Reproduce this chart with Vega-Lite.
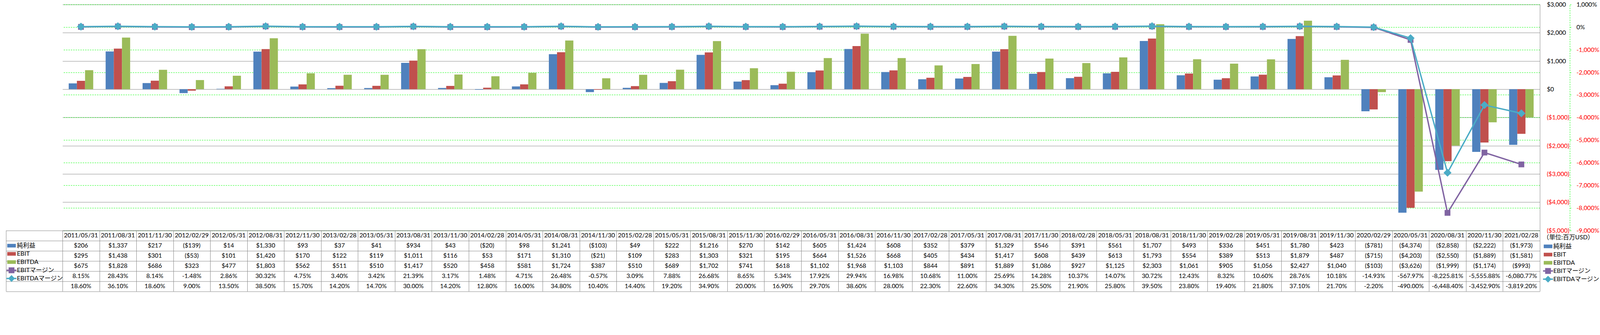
{
  "$schema": "https://vega.github.io/schema/vega-lite/v6.json",
  "background": "white",
  "width": 4096,
  "height": 748,
  "autosize": {"type": "fit", "contains": "padding"},
  "padding": {"left": 14, "top": 3.5, "right": 2, "bottom": 2},
  "view": {"stroke": null},
  "config": {
    "font": "Lato, Noto Sans CJK JP",
    "locale": {"number": {"decimal": ".", "thousands": ",", "grouping": [3], "currency": ["$", ""], "minus": "-"}}
  },
  "datasets": {
    "d": [
      {"date": "2011/05/31", "純利益": 206, "EBIT": 295, "EBITDA": 675, "EBITマージン": 0.0815, "EBITDAマージン": 0.186},
      {"date": "2011/08/31", "純利益": 1337, "EBIT": 1438, "EBITDA": 1828, "EBITマージン": 0.2843, "EBITDAマージン": 0.361},
      {"date": "2011/11/30", "純利益": 217, "EBIT": 301, "EBITDA": 686, "EBITマージン": 0.0814, "EBITDAマージン": 0.186},
      {"date": "2012/02/29", "純利益": -139, "EBIT": -53, "EBITDA": 323, "EBITマージン": -0.0148, "EBITDAマージン": 0.09},
      {"date": "2012/05/31", "純利益": 14, "EBIT": 101, "EBITDA": 477, "EBITマージン": 0.0286, "EBITDAマージン": 0.135},
      {"date": "2012/08/31", "純利益": 1330, "EBIT": 1420, "EBITDA": 1803, "EBITマージン": 0.3032, "EBITDAマージン": 0.385},
      {"date": "2012/11/30", "純利益": 93, "EBIT": 170, "EBITDA": 562, "EBITマージン": 0.0475, "EBITDAマージン": 0.157},
      {"date": "2013/02/28", "純利益": 37, "EBIT": 122, "EBITDA": 511, "EBITマージン": 0.034, "EBITDAマージン": 0.142},
      {"date": "2013/05/31", "純利益": 41, "EBIT": 119, "EBITDA": 510, "EBITマージン": 0.0342, "EBITDAマージン": 0.147},
      {"date": "2013/08/31", "純利益": 934, "EBIT": 1011, "EBITDA": 1417, "EBITマージン": 0.2139, "EBITDAマージン": 0.3},
      {"date": "2013/11/30", "純利益": 43, "EBIT": 116, "EBITDA": 520, "EBITマージン": 0.0317, "EBITDAマージン": 0.142},
      {"date": "2014/02/28", "純利益": -20, "EBIT": 53, "EBITDA": 458, "EBITマージン": 0.0148, "EBITDAマージン": 0.128},
      {"date": "2014/05/31", "純利益": 98, "EBIT": 171, "EBITDA": 581, "EBITマージン": 0.0471, "EBITDAマージン": 0.16},
      {"date": "2014/08/31", "純利益": 1241, "EBIT": 1310, "EBITDA": 1724, "EBITマージン": 0.2648, "EBITDAマージン": 0.348},
      {"date": "2014/11/30", "純利益": -103, "EBIT": -21, "EBITDA": 387, "EBITマージン": -0.0057, "EBITDAマージン": 0.104},
      {"date": "2015/02/28", "純利益": 49, "EBIT": 109, "EBITDA": 510, "EBITマージン": 0.0309, "EBITDAマージン": 0.144},
      {"date": "2015/05/31", "純利益": 222, "EBIT": 283, "EBITDA": 689, "EBITマージン": 0.0788, "EBITDAマージン": 0.192},
      {"date": "2015/08/31", "純利益": 1216, "EBIT": 1303, "EBITDA": 1702, "EBITマージン": 0.2668, "EBITDAマージン": 0.349},
      {"date": "2015/11/30", "純利益": 270, "EBIT": 321, "EBITDA": 741, "EBITマージン": 0.0865, "EBITDAマージン": 0.2},
      {"date": "2016/02/29", "純利益": 142, "EBIT": 195, "EBITDA": 618, "EBITマージン": 0.0534, "EBITDAマージン": 0.169},
      {"date": "2016/05/31", "純利益": 605, "EBIT": 664, "EBITDA": 1102, "EBITマージン": 0.1792, "EBITDAマージン": 0.297},
      {"date": "2016/08/31", "純利益": 1424, "EBIT": 1526, "EBITDA": 1968, "EBITマージン": 0.2994, "EBITDAマージン": 0.386},
      {"date": "2016/11/30", "純利益": 608, "EBIT": 668, "EBITDA": 1103, "EBITマージン": 0.1698, "EBITDAマージン": 0.28},
      {"date": "2017/02/28", "純利益": 352, "EBIT": 405, "EBITDA": 844, "EBITマージン": 0.1068, "EBITDAマージン": 0.223},
      {"date": "2017/05/31", "純利益": 379, "EBIT": 434, "EBITDA": 891, "EBITマージン": 0.11, "EBITDAマージン": 0.226},
      {"date": "2017/08/31", "純利益": 1329, "EBIT": 1417, "EBITDA": 1889, "EBITマージン": 0.2569, "EBITDAマージン": 0.343},
      {"date": "2017/11/30", "純利益": 546, "EBIT": 608, "EBITDA": 1086, "EBITマージン": 0.1428, "EBITDAマージン": 0.255},
      {"date": "2018/02/28", "純利益": 391, "EBIT": 439, "EBITDA": 927, "EBITマージン": 0.1037, "EBITDAマージン": 0.219},
      {"date": "2018/05/31", "純利益": 561, "EBIT": 613, "EBITDA": 1125, "EBITマージン": 0.1407, "EBITDAマージン": 0.258},
      {"date": "2018/08/31", "純利益": 1707, "EBIT": 1793, "EBITDA": 2303, "EBITマージン": 0.3072, "EBITDAマージン": 0.395},
      {"date": "2018/11/30", "純利益": 493, "EBIT": 554, "EBITDA": 1061, "EBITマージン": 0.1243, "EBITDAマージン": 0.238},
      {"date": "2019/02/28", "純利益": 336, "EBIT": 389, "EBITDA": 905, "EBITマージン": 0.0832, "EBITDAマージン": 0.194},
      {"date": "2019/05/31", "純利益": 451, "EBIT": 513, "EBITDA": 1056, "EBITマージン": 0.106, "EBITDAマージン": 0.218},
      {"date": "2019/08/31", "純利益": 1780, "EBIT": 1879, "EBITDA": 2427, "EBITマージン": 0.2876, "EBITDAマージン": 0.371},
      {"date": "2019/11/30", "純利益": 423, "EBIT": 487, "EBITDA": 1040, "EBITマージン": 0.1018, "EBITDAマージン": 0.217},
      {"date": "2020/02/29", "純利益": -781, "EBIT": -715, "EBITDA": -103, "EBITマージン": -0.1493, "EBITDAマージン": -0.022},
      {"date": "2020/05/31", "純利益": -4374, "EBIT": -4203, "EBITDA": -3626, "EBITマージン": -5.6797, "EBITDAマージン": -4.9},
      {"date": "2020/08/31", "純利益": -2858, "EBIT": -2550, "EBITDA": -1999, "EBITマージン": -82.2581, "EBITDAマージン": -64.484},
      {"date": "2020/11/30", "純利益": -2222, "EBIT": -1889, "EBITDA": -1174, "EBITマージン": -55.5588, "EBITDAマージン": -34.529},
      {"date": "2021/02/28", "純利益": -1973, "EBIT": -1581, "EBITDA": -993, "EBITマージン": -60.8077, "EBITDAマージン": -38.192}
    ]
  },
  "data": {"name": "d"},
  "transform": [{"fold": ["純利益", "EBIT", "EBITDA", "EBITマージン", "EBITDAマージン"], "as": ["series", "value"]}],
  "encoding": {
    "x": {
      "field": "date", "type": "nominal",
      "scale": {"type": "band", "paddingInner": 0, "paddingOuter": 0},
      "axis": {"orient": "top", "offset": -578.5, "title": null, "labels": false, "grid": false, "tickBand": "extent", "ticks": true, "tickSize": -156, "tickColor": "#868686", "domain": true, "domainColor": "#868686"}
    }
  },
  "layer": [
    {
      "transform": [{"filter": {"field": "series", "oneOf": ["純利益", "EBIT", "EBITDA"]}}],
      "mark": {"type": "bar"},
      "encoding": {
        "xOffset": {"field": "series", "type": "nominal", "scale": {"domain": ["純利益", "EBIT", "EBITDA"], "paddingInner": 0, "paddingOuter": 0.76}},
        "y": {
          "field": "value", "type": "quantitative",
          "scale": {"domain": [-5000, 3000], "range": [578.5, 0], "nice": false, "zero": false},
          "axis": {
            "orient": "right", "title": null,
            "values": [-5000, -4000, -3000, -2000, -1000, 0, 1000, 2000, 3000],
            "format": "($,.0f",
            "domain": true, "domainColor": "#868686",
            "ticks": false, "tickSize": 0,
            "labelPadding": 17.4, "labelAlign": "left", "labelFontSize": 15.7, "labelFont": "Lato",
            "labelColor": {"condition": {"test": "datum.value < 0", "value": "#FF0000"}, "value": "#000000"},
            "grid": true, "gridColor": "#868686", "gridWidth": 1
          }
        },
        "color": {
          "field": "series", "type": "nominal",
          "scale": {"domain": ["純利益", "EBIT", "EBITDA"], "range": ["#4F81BD", "#C0504D", "#9BBB59"]},
          "legend": null
        }
      }
    },
    {
      "transform": [{"filter": {"field": "series", "oneOf": ["EBITマージン", "EBITDAマージン"]}}],
      "encoding": {
        "y": {
          "field": "value", "type": "quantitative",
          "scale": {"domain": [-90, 10], "range": [578.5, 0], "nice": false, "zero": false},
          "axis": {
            "orient": "right", "title": null, "offset": 76.7,
            "values": [-90, -80, -70, -60, -50, -40, -30, -20, -10, 0, 10],
            "format": ",.0%",
            "domain": true, "domainColor": "#00FF00", "domainDash": [3.5, 2.6],
            "ticks": true, "tickSize": 3.5, "tickColor": "#00FF00",
            "labelPadding": 13, "labelAlign": "left", "labelFontSize": 15.7, "labelFont": "Lato",
            "labelColor": {"condition": {"test": "datum.value < 0", "value": "#FF0000"}, "value": "#000000"},
            "grid": true, "gridColor": "#00FF00", "gridDash": [3.5, 2.6], "gridWidth": 1
          }
        }
      },
      "layer": [
        {"transform": [{"filter": {"field": "series", "equal": "EBITマージン"}}], "mark": {"type": "line", "color": "#8064A2", "strokeWidth": 3.5}, "encoding": {}},
        {"transform": [{"filter": {"field": "series", "equal": "EBITマージン"}}], "mark": {"type": "point", "shape": "square", "size": 219, "filled": true, "color": "#8064A2", "opacity": 1}, "encoding": {}},
        {"transform": [{"filter": {"field": "series", "equal": "EBITDAマージン"}}], "mark": {"type": "line", "color": "#4BACC6", "strokeWidth": 3.5}, "encoding": {}},
        {"transform": [{"filter": {"field": "series", "equal": "EBITDAマージン"}}], "mark": {"type": "point", "shape": "diamond", "size": 419, "filled": true, "color": "#4BACC6", "opacity": 1}, "encoding": {}}
      ]
    },
    {
      "layer": [
        {
          "transform": [{"filter": {"field": "series", "equal": "純利益"}}],
          "mark": {"type": "text", "fontSize": 15.7, "color": "#000000"},
          "encoding": {
            "y": {"datum": "header", "type": "nominal",
                  "scale": {"type": "band", "domain": ["header", "純利益", "EBIT", "EBITDA", "EBITマージン", "EBITDAマージン"], "range": [578.5, 734.5], "paddingInner": 0, "paddingOuter": 0},
                  "axis": {"orient": "left", "title": null, "labels": false, "tickBand": "extent", "offset": 144.6, "domain": true, "domainColor": "#868686", "ticks": true, "tickSize": -144.6, "tickColor": "#868686", "grid": true, "gridColor": "#868686"}},
            "text": {"field": "date"}
          }
        },
        {
          "transform": [{"filter": {"field": "series", "oneOf": ["純利益", "EBIT", "EBITDA"]}}],
          "mark": {"type": "text", "fontSize": 15.7, "color": "#000000"},
          "encoding": {
            "y": {"field": "series", "type": "nominal",
                  "scale": {"type": "band", "domain": ["header", "純利益", "EBIT", "EBITDA", "EBITマージン", "EBITDAマージン"], "range": [578.5, 734.5], "paddingInner": 0, "paddingOuter": 0},
                  "axis": {"orient": "left", "title": null, "labels": false, "tickBand": "extent", "offset": 144.6, "domain": true, "domainColor": "#868686", "ticks": true, "tickSize": -144.6, "tickColor": "#868686", "grid": true, "gridColor": "#868686"}},
            "text": {"field": "value", "type": "quantitative", "format": "($,.0f"}
          }
        },
        {
          "transform": [{"filter": {"field": "series", "oneOf": ["EBITマージン", "EBITDAマージン"]}}],
          "mark": {"type": "text", "fontSize": 15.7, "color": "#000000"},
          "encoding": {
            "y": {"field": "series", "type": "nominal",
                  "scale": {"type": "band", "domain": ["header", "純利益", "EBIT", "EBITDA", "EBITマージン", "EBITDAマージン"], "range": [578.5, 734.5], "paddingInner": 0, "paddingOuter": 0},
                  "axis": {"orient": "left", "title": null, "labels": false, "tickBand": "extent", "offset": 144.6, "domain": true, "domainColor": "#868686", "ticks": true, "tickSize": -144.6, "tickColor": "#868686", "grid": true, "gridColor": "#868686"}},
            "text": {"field": "value", "type": "quantitative", "format": ",.2%"}
          }
        }
      ]
    },
    {
      "transform": [{"filter": "false"}],
      "mark": {"type": "point", "filled": true, "opacity": 1, "strokeWidth": 0},
      "encoding": {
        "fill": {
          "field": "series", "type": "nominal",
          "scale": {"domain": ["純利益", "EBIT", "EBITDA", "EBITマージン", "EBITDAマージン"], "range": ["#4F81BD", "#C0504D", "#9BBB59", "#8064A2", "#4BACC6"]},
          "legend": {
            "orient": "none", "legendX": 3790, "legendY": 589,
            "title": "（単位:百万USD）", "titleFontSize": 15.7, "titleFontWeight": "normal", "titleColor": "#000000", "titlePadding": 1.8, "titleLimit": 300,
            "labelFontSize": 15.7, "labelColor": "#000000", "labelLimit": 300, "labelOffset": 0.4,
            "symbolSize": 660, "symbolStrokeWidth": 0, "symbolOpacity": 1, "rowPadding": 0, "padding": 0
          }
        },
        "shape": {
          "field": "series", "type": "nominal",
          "scale": {"domain": ["純利益", "EBIT", "EBITDA", "EBITマージン", "EBITDAマージン"], "range": ["M-0.86,-0.36H0.86V0.36H-0.86Z", "M-0.86,-0.36H0.86V0.36H-0.86Z", "M-0.86,-0.36H0.86V0.36H-0.86Z", "M-1,-0.14H1V0.14H-1Z M-0.58,-0.58H0.58V0.58H-0.58Z", "M-1,-0.14H1V0.14H-1Z M0,-0.68L0.68,0L0,0.68L-0.68,0Z"]},
          "legend": {
            "orient": "none", "legendX": 3790, "legendY": 589,
            "title": "（単位:百万USD）", "titleFontSize": 15.7, "titleFontWeight": "normal", "titleColor": "#000000", "titlePadding": 1.8, "titleLimit": 300,
            "labelFontSize": 15.7, "labelColor": "#000000", "labelLimit": 300, "labelOffset": 0.4,
            "symbolSize": 660, "symbolStrokeWidth": 0, "symbolOpacity": 1, "rowPadding": 0, "padding": 0
          }
        }
      }
    },
    {
      "transform": [{"filter": "false"}],
      "mark": {"type": "point", "filled": true, "opacity": 1, "strokeWidth": 0},
      "encoding": {
        "fill": {
          "field": "series", "type": "nominal",
          "scale": {"domain": ["純利益", "EBIT", "EBITDA", "EBITマージン", "EBITDAマージン"], "range": ["#4F81BD", "#C0504D", "#9BBB59", "#8064A2", "#4BACC6"]},
          "legend": {
            "orient": "none", "legendX": -143.5, "legendY": 604.7, "title": null,
            "labelFontSize": 15.7, "labelColor": "#000000", "labelLimit": 300, "labelOffset": 0.8,
            "symbolSize": 660, "symbolStrokeWidth": 0, "symbolOpacity": 1, "rowPadding": 0, "padding": 0
          }
        },
        "shape": {
          "field": "series", "type": "nominal",
          "scale": {"domain": ["純利益", "EBIT", "EBITDA", "EBITマージン", "EBITDAマージン"], "range": ["M-0.86,-0.36H0.86V0.36H-0.86Z", "M-0.86,-0.36H0.86V0.36H-0.86Z", "M-0.86,-0.36H0.86V0.36H-0.86Z", "M-1,-0.14H1V0.14H-1Z M-0.58,-0.58H0.58V0.58H-0.58Z", "M-1,-0.14H1V0.14H-1Z M0,-0.68L0.68,0L0,0.68L-0.68,0Z"]},
          "legend": {
            "orient": "none", "legendX": -143.5, "legendY": 604.7, "title": null,
            "labelFontSize": 15.7, "labelColor": "#000000", "labelLimit": 300, "labelOffset": 0.8,
            "symbolSize": 660, "symbolStrokeWidth": 0, "symbolOpacity": 1, "rowPadding": 0, "padding": 0
          }
        }
      }
    }
  ],
  "resolve": {
    "scale": {"y": "independent", "fill": "independent", "shape": "independent"},
    "legend": {"fill": "independent", "shape": "independent"}
  }
}
